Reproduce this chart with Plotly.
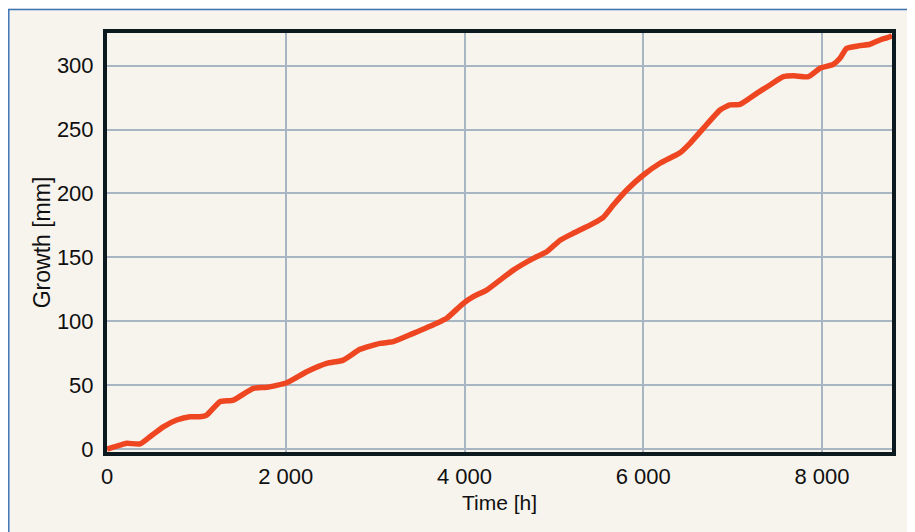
import plotly.graph_objects as go

time_h = [0, 145, 220, 369, 481, 630, 780, 929, 1041, 1116, 1264, 1413, 1637, 1787, 2011,
          2234, 2458, 2644, 2831, 3055, 3203, 3427, 3689, 3801, 3987, 4098, 4248, 4397,
          4546, 4770, 4920, 5069, 5217, 5441, 5553, 5665, 5815, 6001, 6187, 6411, 6523,
          6672, 6859, 6970, 7082, 7269, 7418, 7567, 7679, 7847, 7978, 8126, 8201, 8276,
          8422, 8537, 8648, 8760, 8784]
growth_mm = [0, 3.1, 4.5, 4.0, 9.6, 17.4, 22.7, 25.3, 25.3, 26.6, 37.0, 38.3, 47.5, 48.3, 51.9,
             60.5, 67.0, 69.6, 78.0, 82.7, 84.0, 90.5, 98.4, 102.3, 114.0, 119.2, 124.4, 132.2,
             140.0, 149.2, 154.3, 163.4, 168.8, 176.6, 181.3, 190.9, 202.7, 214.4, 223.6, 231.8, 239.2,
             250.9, 265.3, 269.2, 269.7, 278.3, 284.8, 291.3, 292.1, 291.3, 297.9, 301.0, 305.7, 313.5,
             315.6, 316.7, 320.0, 322.6, 323.5]

x_ticks = [0, 2000, 4000, 6000, 8000]
y_ticks = [0, 50, 100, 150, 200, 250, 300]

# page offset of the figure (default body margin of the html page)
OFF = 8
W, H = 915 - OFF, 532 - OFF
# plot area in page pixels
L, R, T, B = 107, 892, 33, 452

def px(x):
    return (x - L) / (R - L)

def py(y):
    return (B - y) / (B - T)

fig = go.Figure()
fig.add_trace(go.Scatter(
    x=time_h, y=growth_mm, mode="lines",
    line=dict(color="#ef4622", width=5.5, shape="spline", smoothing=0.5),
    hoverinfo="skip", showlegend=False,
))

frame = "#0c1a20"
grid = "#a8b5c3"
font = dict(family="Liberation Sans, Arial, sans-serif", size=22, color="#101010")

fig.update_layout(
    width=W, height=H,
    margin=dict(l=L - OFF, r=915 - R, t=T - OFF, b=532 - B),
    paper_bgcolor="#f7f4ee",
    plot_bgcolor="#f7f4ee",
    separators=". ",
    font=font,
    xaxis=dict(
        range=[0, 8783], tickvals=x_ticks, tickformat=",d",
        showgrid=True, gridcolor=grid, gridwidth=2,
        showline=True, linecolor=frame, linewidth=4, mirror=True,
        ticks="outside", ticklen=2, tickcolor="rgba(0,0,0,0)", zeroline=False,
        title=dict(text="Time [h]", font=dict(size=21), standoff=8),
        tickfont=dict(size=22),
    ),
    yaxis=dict(
        range=[-2.3, 325.5], tickvals=y_ticks,
        showgrid=True, gridcolor=grid, gridwidth=2,
        showline=True, linecolor=frame, linewidth=4, mirror=True,
        ticks="outside", ticklen=5, tickcolor="rgba(0,0,0,0)", zeroline=False,
        title=dict(text="Growth [mm]", font=dict(size=23), standoff=1),
        tickfont=dict(size=22),
    ),
    shapes=[
        # blue border lines (top and left)
        dict(type="line", xref="paper", yref="paper", x0=px(8), x1=px(925), y0=py(9.5), y1=py(9.5),
             line=dict(color="#3d74b8", width=1.5)),
        dict(type="line", xref="paper", yref="paper", x0=px(8.8), x1=px(8.8), y0=py(9), y1=py(540),
             line=dict(color="#3d74b8", width=1.5)),
    ],
)

fig.write_html("out.html")
